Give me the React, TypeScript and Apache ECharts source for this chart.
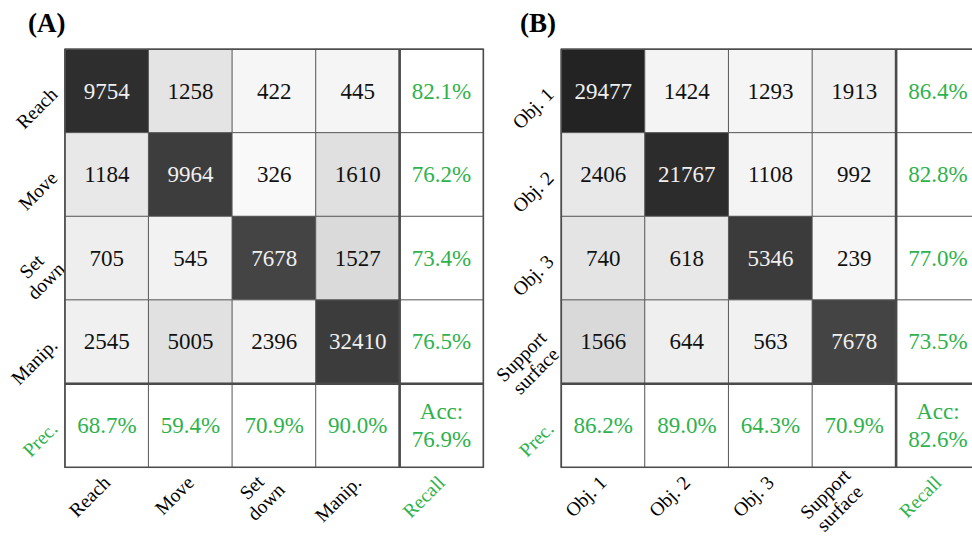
import React, { useEffect, useRef } from "react";
import * as echarts from "echarts";

// Panel A
const labelsA = ["Reach", "Move", "Set\ndown", "Manip."];
const countsA = [
  [9754, 1258, 422, 445],
  [1184, 9964, 326, 1610],
  [705, 545, 7678, 1527],
  [2545, 5005, 2396, 32410],
];
const recallA = [82.1, 76.2, 73.4, 76.5];
const precA = [68.7, 59.4, 70.9, 90.0];
const accA = 76.9;

// Panel B
const labelsB = ["Obj. 1", "Obj. 2", "Obj. 3", "Support\nsurface"];
const countsB = [
  [29477, 1424, 1293, 1913],
  [2406, 21767, 1108, 992],
  [740, 618, 5346, 239],
  [1566, 644, 563, 7678],
];
const recallB = [86.4, 82.8, 77.0, 73.5];
const precB = [86.2, 89.0, 64.3, 70.9];
const accB = 82.6;

const RECALL = "Recall";
const PREC = "Prec.";
const GREEN = "#2fb24c";
const FONT = "'Liberation Serif', 'Times New Roman', serif";

const GRIDS = [
  { left: 65, top: 49.3, width: 418.3, height: 418 },
  { left: 561.3, top: 49.3, width: 418.5, height: 418 },
];

const NOB = { textBorderWidth: 0, textBorderColor: "transparent", textShadowBlur: 0 };

function axisLabelCfg(fs: number) {
  return {
    rotate: 45,
    margin: 11,
    fontFamily: FONT,
    fontSize: fs,
    formatter: (v: string) => {
      const key = v === RECALL || v === PREC ? "g" : "k";
      return v
        .split("\n")
        .map((s) => `{${key}|${s}}`)
        .join("\n");
    },
    rich: {
      k: { align: "center", fontFamily: FONT, fontSize: fs, color: "#000", lineHeight: fs + 1 },
      g: { align: "center", fontFamily: FONT, fontSize: fs, color: GREEN, lineHeight: fs + 1 },
    },
  };
}

const cellRich = {
  w: { fontFamily: FONT, fontSize: 23, color: "#f0f0f0", ...NOB },
  b: { fontFamily: FONT, fontSize: 23, color: "#111111", ...NOB },
  g: { fontFamily: FONT, fontSize: 23, color: GREEN, lineHeight: 28, align: "center", ...NOB },
};

function buildPanel(
  idx: number,
  labels: string[],
  counts: number[][],
  recall: number[],
  prec: number[],
  acc: number
) {
  const xCats = [...labels, RECALL];
  const yCats = [...labels, PREC];
  const heat: any[] = [];
  counts.forEach((row, r) => {
    const sum = row.reduce((a, b) => a + b, 0);
    row.forEach((v, c) => {
      heat.push([c, r, v / sum, v]);
    });
  });
  const stats: any[] = [];
  recall.forEach((v, r) => stats.push([4, r, v, 0]));
  prec.forEach((v, c) => stats.push([c, 4, v, 0]));
  stats.push([4, 4, acc, 1]);

  const xAxis = {
    type: "category",
    gridIndex: idx,
    data: xCats,
    position: "bottom",
    axisLine: { show: false },
    axisTick: { show: false },
    splitLine: { show: false },
    axisLabel: { ...axisLabelCfg(19.5), margin: 12 },
  };
  const yAxis = {
    type: "category",
    gridIndex: idx,
    data: yCats,
    inverse: true,
    axisLine: { show: false },
    axisTick: { show: false },
    splitLine: { show: false },
    axisLabel: axisLabelCfg(19.5),
  };
  const series = [
    {
      type: "heatmap",
      xAxisIndex: idx,
      yAxisIndex: idx,
      data: heat,
      itemStyle: { borderColor: "#5a5a5a", borderWidth: 1 },
      label: {
        show: true,
        fontFamily: FONT,
        fontSize: 23,
        ...NOB,
        formatter: (p: any) => `{${p.value[2] > 0.5 ? "w" : "b"}|${p.value[3]}}`,
        rich: cellRich,
      },
      emphasis: { disabled: true },
    },
    {
      type: "heatmap",
      xAxisIndex: idx,
      yAxisIndex: idx,
      data: stats,
      itemStyle: { borderColor: "#5a5a5a", borderWidth: 1 },
      label: {
        show: true,
        fontFamily: FONT,
        fontSize: 23,
        ...NOB,
        formatter: (p: any) => {
          const txt = p.value[2].toFixed(1) + "%";
          return p.value[3] === 1 ? `{g|Acc:}\n{g|${txt}}` : `{g|${txt}}`;
        },
        rich: cellRich,
      },
      emphasis: { disabled: true },
    },
  ];
  return { xAxis, yAxis, series };
}

export default function App() {
  const ref = useRef<HTMLDivElement>(null);
  useEffect(() => {
    if (!ref.current) return;
    const chart = echarts.init(ref.current, undefined, { renderer: "svg" });
    const pA = buildPanel(0, labelsA, countsA, recallA, precA, accA);
    const pB = buildPanel(1, labelsB, countsB, recallB, precB, accB);

    const seps: any[] = [];
    GRIDS.forEach((g) => {
      const x4 = g.left + (g.width * 4) / 5;
      const y4 = g.top + (g.height * 4) / 5;
      seps.push({
        type: "line",
        shape: { x1: x4, y1: g.top, x2: x4, y2: g.top + g.height },
        style: { stroke: "#4a4a4a", lineWidth: 2.6 },
        z: 100,
      });
      seps.push({
        type: "line",
        shape: { x1: g.left, y1: y4, x2: g.left + g.width, y2: y4 },
        style: { stroke: "#4a4a4a", lineWidth: 2.6 },
        z: 100,
      });
      seps.push({
        type: "rect",
        shape: { x: g.left, y: g.top, width: g.width, height: g.height },
        style: { fill: "none", stroke: "#4d4d4d", lineWidth: 1.6 },
        z: 100,
      });
    });

    chart.setOption({
      animation: false,
      backgroundColor: "#ffffff",
      title: [
        {
          text: "(A)",
          left: 23,
          top: 4,
          textStyle: { fontFamily: FONT, fontWeight: "bold", fontSize: 27, color: "#000" },
        },
        {
          text: "(B)",
          left: 515,
          top: 4,
          textStyle: { fontFamily: FONT, fontWeight: "bold", fontSize: 27, color: "#000" },
        },
      ],
      grid: GRIDS.map((g) => ({ ...g, containLabel: false })),
      xAxis: [pA.xAxis, pB.xAxis],
      yAxis: [pA.yAxis, pB.yAxis],
      visualMap: [
        {
          type: "continuous",
          show: false,
          min: 0,
          max: 1,
          dimension: 2,
          seriesIndex: [0, 2],
          inRange: { color: ["#ffffff", "#000000"] },
        },
        {
          type: "continuous",
          show: false,
          min: 0,
          max: 100,
          dimension: 2,
          seriesIndex: [1, 3],
          inRange: { color: ["#ffffff", "#ffffff"] },
        },
      ],
      series: [...pA.series, ...pB.series],
      graphic: seps,
    });
    return () => chart.dispose();
  }, []);
  return (
    <div
      style={{
        position: "fixed",
        left: 0,
        top: 0,
        width: 972,
        height: 557,
        overflow: "hidden",
        background: "#fff",
      }}
    >
      <div ref={ref} style={{ width: 1000, height: 557 }} />
    </div>
  );
}
